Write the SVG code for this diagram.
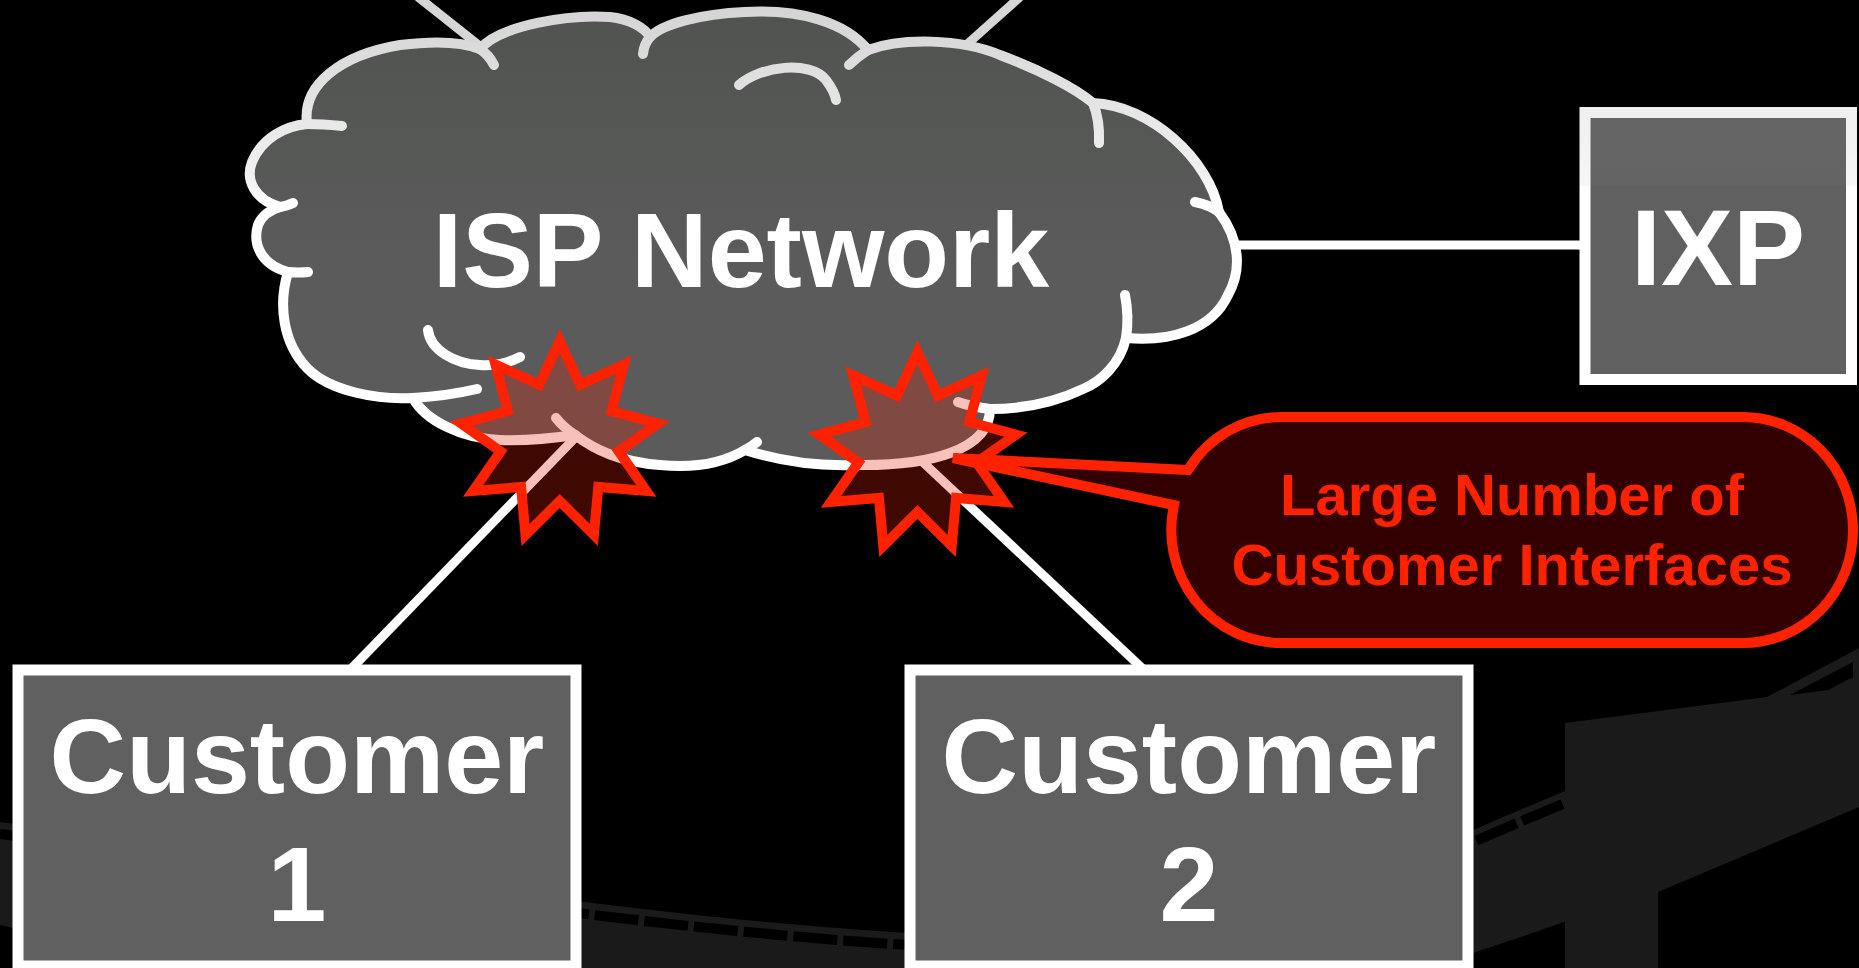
<svg xmlns="http://www.w3.org/2000/svg" width="1859" height="968" viewBox="0 0 1859 968">
  <defs>
    <style>
      .lbl{font-family:"Liberation Sans",Arial,Helvetica,sans-serif;font-weight:bold;text-anchor:middle}
      .box{fill:#606060;stroke:#ffffff;stroke-width:11}
      .link{stroke:#ffffff;stroke-width:9;fill:none}
      .link-top{stroke:#d6d6d6;stroke-width:9;fill:none}
      .lobe{fill:none;stroke:url(#cloudStroke);stroke-width:10;stroke-linecap:round;stroke-linejoin:round}
      .burst{fill:#e41c00;fill-opacity:0.28;stroke:#ff2200;stroke-width:10;stroke-linejoin:miter;stroke-miterlimit:10}
      .road{fill:#1a1a1a}
    </style>
    <linearGradient id="cloudStroke" gradientUnits="userSpaceOnUse" x1="0" y1="10" x2="0" y2="200">
      <stop offset="0" stop-color="#d4d4d4"/>
      <stop offset="0.9" stop-color="#f2f2f2"/>
      <stop offset="1" stop-color="#ffffff"/>
    </linearGradient>
    <linearGradient id="cloudFill" gradientUnits="userSpaceOnUse" x1="0" y1="10" x2="0" y2="260">
      <stop offset="0" stop-color="#515351"/>
      <stop offset="1" stop-color="#5a5b5a"/>
    </linearGradient>
    <linearGradient id="ixpFill" gradientUnits="userSpaceOnUse" x1="0" y1="112" x2="0" y2="380">
      <stop offset="0" stop-color="#656565"/>
      <stop offset="0.27" stop-color="#646464"/>
      <stop offset="0.28" stop-color="#606060"/>
      <stop offset="1" stop-color="#606060"/>
    </linearGradient>
    <linearGradient id="ixpStroke" gradientUnits="userSpaceOnUse" x1="0" y1="106" x2="0" y2="386">
      <stop offset="0" stop-color="#efefef"/>
      <stop offset="0.28" stop-color="#f6f6f6"/>
      <stop offset="0.29" stop-color="#ffffff"/>
      <stop offset="1" stop-color="#ffffff"/>
    </linearGradient>
    <!-- nine-pointed burst centred on the origin -->
    <polygon id="star" points="0,-100 20.5,-56.4 64.3,-76.6 52,-30 98.5,-17.4 59.1,10.4 86.6,50 38.6,46 34.2,94 0,60 -34.2,94 -38.6,46 -86.6,50 -59.1,10.4 -98.5,-17.4 -52,-30 -64.3,-76.6 -20.5,-56.4"/>
    <path id="roadTop" d="M 0,822 C 350,868 720,932 1030,938 C 1250,942 1420,850 1565,791"/>
  </defs>

  <!-- backdrop -->
  <rect x="0" y="0" width="1859" height="968" fill="#000000"/>

  <!-- elevated roadway silhouette -->
  <g id="roadway">
    <path class="road" d="M 0,822 C 350,868 720,932 1030,938 C 1250,942 1420,850 1565,791 L 1859,670 L 1859,807 C 1750,852 1600,912 1473,953 C 1440,963 1420,970 1400,980 L 200,980 C 120,960 60,938 0,925 Z"/>
    <use href="#roadTop" transform="translate(0,12)" fill="none" stroke="#000000" stroke-width="10" stroke-dasharray="44 6"/>
    <path class="road" d="M 1565,723 L 1767,697 L 1859,648 L 1859,807 L 1658,892 L 1658,968 L 1565,968 Z"/>
    <polygon points="1790,695 1853,662 1853,677 1828,690" fill="#000000"/>
  </g>

  <!-- connectors -->
  <g id="connectors">
    <line class="link-top" x1="418" y1="-3" x2="505" y2="66"/>
    <line class="link-top" x1="1020" y1="-3" x2="945" y2="64"/>
    <line class="link" x1="1225" y1="245" x2="1585" y2="245"/>
    <line class="link" x1="600" y1="412" x2="352" y2="668"/>
    <line class="link" x1="895" y1="436" x2="1142" y2="668"/>
  </g>

  <!-- ISP cloud -->
  <g id="isp-network">
    <path fill="url(#cloudFill)" d="M 307,124 C 302,85 340,55 400,45 C 440,40 465,43 480,49 C 500,25 570,14 610,17 C 630,19 645,28 650,37 C 662,24 700,14 745,12 C 800,9 845,22 868,50 C 900,38 960,38 1000,55 C 1040,70 1075,88 1093,103 C 1150,105 1210,160 1219,212 C 1240,240 1242,270 1228,295 C 1212,330 1170,342 1126,338 C 1120,365 1100,382 1083,389 C 1060,400 1030,409 990,409 C 990,450 930,466 857,465 C 810,467 770,458 745,450 C 720,465 690,468 660,465 C 620,462 595,450 575,435 C 555,438 530,441 500,440 C 460,438 425,420 413,398 C 380,400 330,392 307,368 C 283,343 278,305 288,272 C 262,265 252,245 258,225 C 262,215 270,210 280,207 C 255,200 245,180 252,162 C 262,138 285,126 307,124 Z"/>
    <path class="lobe" d="M 307,124 C 302,85 340,55 400,45 C 440,40 465,43 480,49 C 500,25 570,14 610,17 C 630,19 645,28 650,37 C 662,24 700,14 745,12 C 800,9 845,22 868,50 C 900,38 960,38 1000,55 C 1040,70 1075,88 1093,103 C 1150,105 1210,160 1219,212 C 1240,240 1242,270 1228,295 C 1212,330 1170,342 1126,338 C 1120,365 1100,382 1083,389 C 1060,400 1030,409 990,409 C 990,450 930,466 857,465 C 810,467 770,458 745,450 C 720,465 690,468 660,465 C 620,462 595,450 575,435 C 555,438 530,441 500,440 C 460,438 425,420 413,398 C 380,400 330,392 307,368 C 283,343 278,305 288,272 C 262,265 252,245 258,225 C 262,215 270,210 280,207 C 255,200 245,180 252,162 C 262,138 285,126 307,124 Z"/>
    <!-- curled ends where the puffs overlap -->
    <path class="lobe" d="M 342,126 Q 322,124 307,124"/>
    <path class="lobe" d="M 280,207 Q 287,206 293,203"/>
    <path class="lobe" d="M 288,272 Q 298,273 308,272"/>
    <path class="lobe" d="M 413,398 Q 447,396 477,389"/>
    <path class="lobe" d="M 575,435 Q 563,427 556,418"/>
    <path class="lobe" d="M 745,450 Q 751,447 757,442"/>
    <path class="lobe" d="M 990,409 Q 972,407 958,402"/>
    <path class="lobe" d="M 1125,295 C 1128,310 1128,325 1126,338"/>
    <path class="lobe" d="M 1195,202 Q 1210,205 1219,212"/>
    <path class="lobe" d="M 1093,103 Q 1100,120 1099,143"/>
    <path class="lobe" d="M 849,65 Q 857,57 868,50"/>
    <path class="lobe" d="M 643,54 Q 644,44 650,37"/>
    <path class="lobe" d="M 480,49 Q 489,55 494,65"/>
    <!-- inner puff lines -->
    <path class="lobe" d="M 739,85 C 760,66 810,60 826,80 C 832,88 835,94 836,100"/>
    <path class="lobe" d="M 428,330 C 430,350 455,364 480,365 C 495,366 510,362 520,357"/>
    <text class="lbl" x="741" y="287" font-size="106" fill="#ffffff">ISP Network</text>
  </g>

  <!-- IXP -->
  <g id="ixp">
    <rect x="1585" y="112.5" width="266.5" height="267" fill="url(#ixpFill)" stroke="url(#ixpStroke)" stroke-width="11"/>
    <text class="lbl" x="1718" y="285" font-size="108" fill="#ffffff">IXP</text>
  </g>

  <!-- Customer 1 -->
  <g id="customer-1">
    <rect class="box" x="18" y="670" width="558" height="296"/>
    <text class="lbl" x="297" y="793" font-size="106" fill="#ffffff">Customer</text>
    <text class="lbl" x="297" y="921" font-size="106" fill="#ffffff">1</text>
  </g>

  <!-- Customer 2 -->
  <g id="customer-2">
    <rect class="box" x="910" y="670" width="558" height="296"/>
    <text class="lbl" x="1189" y="793" font-size="106" fill="#ffffff">Customer</text>
    <text class="lbl" x="1189" y="921" font-size="106" fill="#ffffff">2</text>
  </g>

  <!-- interface hot spots -->
  <g id="interface-bursts">
    <use href="#star" class="burst" transform="translate(559.7,441)"/>
    <use href="#star" class="burst" transform="translate(917.5,452)"/>
  </g>

  <!-- callout -->
  <g id="callout">
    <path d="M 1188,470 L 953,458 L 1174,505 A 110 113 0 0 0 1281,643 L 1743,643 A 110 113 0 0 0 1853,530 A 110 113 0 0 0 1743,417 L 1281,417 A 110 113 0 0 0 1188,470 Z" fill="#320000" stroke="#ff2200" stroke-width="10"/>
    <text class="lbl" x="1512" y="515" font-size="58" fill="#ff2200">Large Number of</text>
    <text class="lbl" x="1512" y="585" font-size="58" fill="#ff2200">Customer Interfaces</text>
  </g>
</svg>
